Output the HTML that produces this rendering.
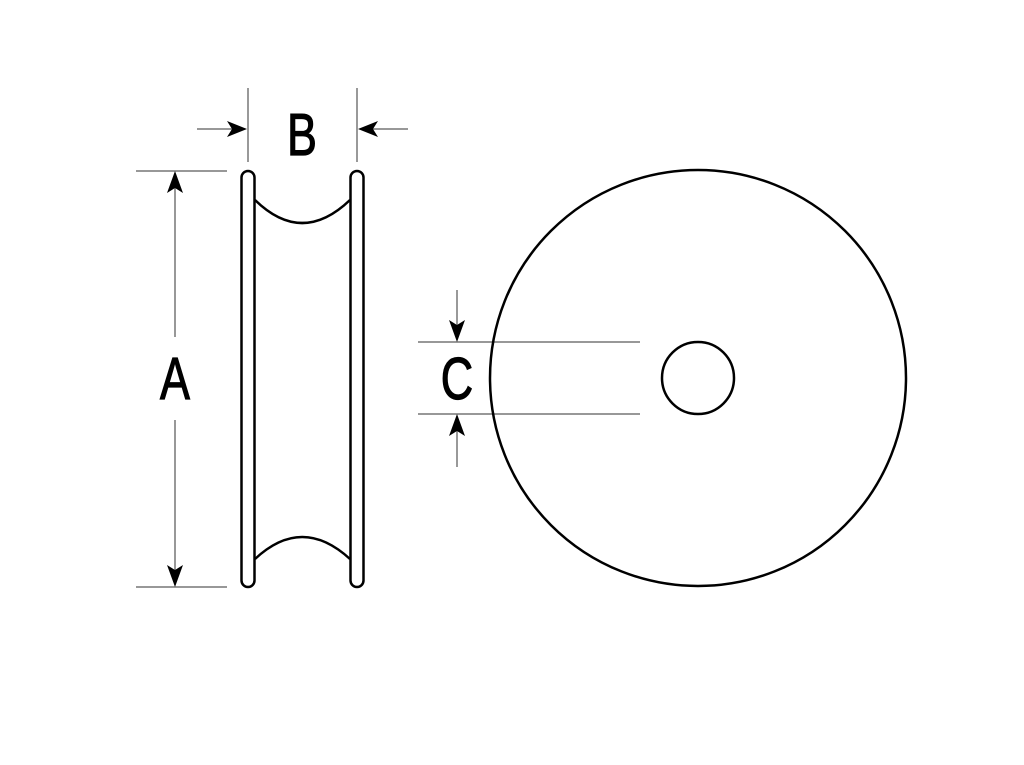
<!DOCTYPE html>
<html><head><style>html,body{margin:0;padding:0;background:#fff;}svg{display:block}</style></head>
<body>
<svg width="1024" height="765" viewBox="0 0 1024 765" xmlns="http://www.w3.org/2000/svg">
<g stroke="#777" stroke-width="1.5" fill="none">
<line x1="248" y1="88" x2="248" y2="162"/>
<line x1="357" y1="88" x2="357" y2="162"/>
<line x1="197" y1="129" x2="236" y2="129"/>
<line x1="408" y1="129" x2="370" y2="129"/>
<line x1="136" y1="171" x2="227" y2="171"/>
<line x1="136" y1="587" x2="227" y2="587"/>
<line x1="175" y1="185" x2="175" y2="337"/>
<line x1="175" y1="420" x2="175" y2="573"/>
<line x1="418" y1="342" x2="640" y2="342"/>
<line x1="418" y1="414" x2="640" y2="414"/>
<line x1="457" y1="290" x2="457" y2="330"/>
<line x1="457" y1="426" x2="457" y2="467"/>
</g>
<g fill="#000">
<polygon points="247,129 227,121 232,129 227,137"/>
<polygon points="358,129 378,121 373,129 378,137"/>
<polygon points="175,171 167,193 175,188 183,193"/>
<polygon points="175,587 167,565 175,570 183,565"/>
<polygon points="457,342 449,320 457,325 465,320"/>
<polygon points="457,414 449,436 457,431 465,436"/>
</g>
<g stroke="#000" stroke-width="2.5" fill="none">
<rect x="241.5" y="171" width="13" height="416" rx="6.5"/>
<rect x="350.5" y="171" width="13" height="416" rx="6.5"/>
<path d="M255 200 Q302 246 350 200"/>
<path d="M255 559 Q302 515 350 559"/>
<circle cx="698" cy="378" r="208"/>
<circle cx="698" cy="378" r="36"/>
</g>
<g font-family="Liberation Sans, sans-serif" font-size="59" fill="#000" stroke="#000" stroke-width="1.2" text-anchor="middle">
<text transform="translate(302,155) scale(0.76,1)">B</text>
<text transform="translate(175,399) scale(0.76,1)">A</text>
<text transform="translate(457,399) scale(0.76,1)">C</text>
</g>
</svg>
</body></html>
